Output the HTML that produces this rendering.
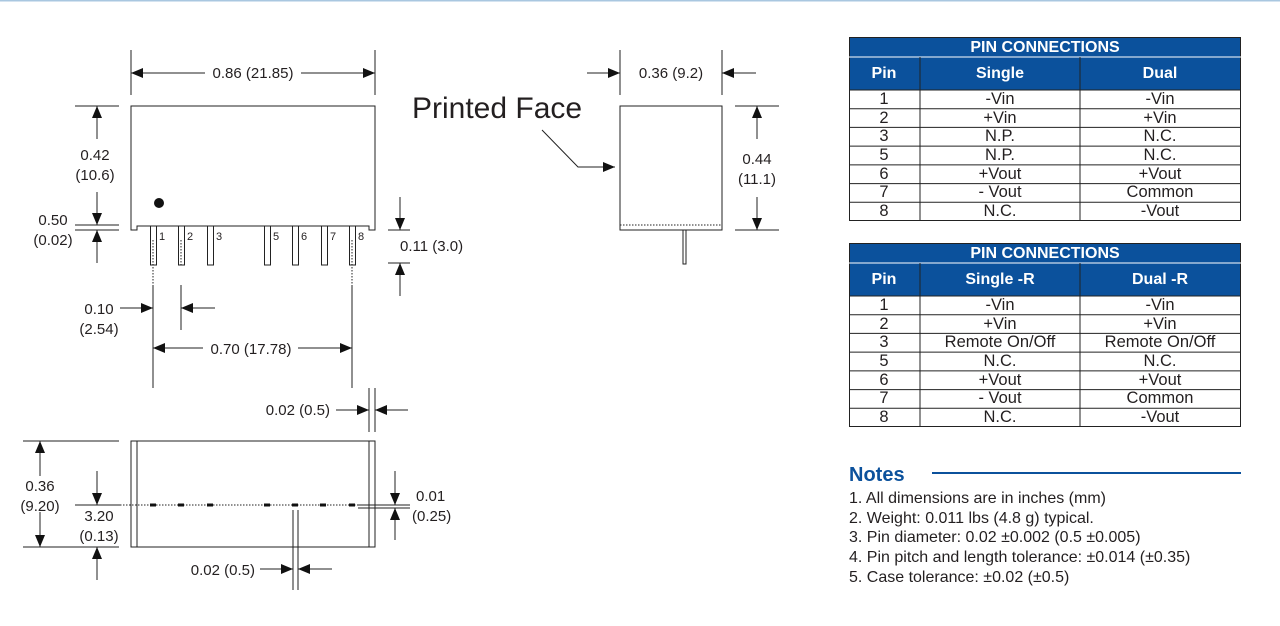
<!DOCTYPE html>
<html><head><meta charset="utf-8"><style>
body{margin:0;background:#fff}
svg{display:block}
text{font-family:"Liberation Sans",Arial,sans-serif;fill:#231f20}
</style></head><body>
<svg width="1280" height="626" viewBox="0 0 1280 626" xmlns="http://www.w3.org/2000/svg">
<defs>
<marker id="a" markerWidth="12" markerHeight="10" refX="12" refY="5" orient="auto" markerUnits="userSpaceOnUse"><path d="M0,0 L12,5 L0,10 Z" fill="#111"/></marker>
</defs>
<rect x="0" y="0" width="1280" height="1.5" fill="#a9c7e0"/>
<g stroke="#222" stroke-width="1" fill="none">
<path d="M131,106 H375 V230 H369 V226 H137 V230 H131 Z"/>
<rect x="150.5" y="226" width="6" height="39"/>
<rect x="178.5" y="226" width="6" height="39"/>
<rect x="207.5" y="226" width="6" height="39"/>
<rect x="264.5" y="226" width="6" height="39"/>
<rect x="292.5" y="226" width="6" height="39"/>
<rect x="321.5" y="226" width="6" height="39"/>
<rect x="349.5" y="226" width="6" height="39"/>
<path d="M153,240 V285 M181,240 V265 M352,240 V285" stroke-dasharray="1.5 1.5"/>
<path d="M131,50 V95 M375,50 V95"/>
<line x1="205" y1="73" x2="131" y2="73" marker-end="url(#a)"/>
<line x1="301" y1="73" x2="375" y2="73" marker-end="url(#a)"/>
<path d="M75,106 H119 M75,225 H119 M75,230 H119"/>
<line x1="97" y1="139" x2="97" y2="106" marker-end="url(#a)"/>
<line x1="97" y1="192" x2="97" y2="225" marker-end="url(#a)"/>
<line x1="97" y1="263" x2="97" y2="230" marker-end="url(#a)"/>
<path d="M388,230 H410 M388,263 H410"/>
<line x1="400" y1="197" x2="400" y2="230" marker-end="url(#a)"/>
<line x1="400" y1="296" x2="400" y2="263" marker-end="url(#a)"/>
<path d="M153,285 V388 M181,285 V330 M352,285 V388"/>
<line x1="120" y1="308" x2="153" y2="308" marker-end="url(#a)"/>
<line x1="215" y1="308" x2="181" y2="308" marker-end="url(#a)"/>
<line x1="203" y1="348" x2="153" y2="348" marker-end="url(#a)"/>
<line x1="298" y1="348" x2="352" y2="348" marker-end="url(#a)"/>

<rect x="131" y="441" width="244" height="106"/>
<path d="M137,441 V547 M369,441 V547"/>
<path d="M369,388 V432 M375,388 V432"/>
<line x1="336" y1="410" x2="369" y2="410" marker-end="url(#a)"/>
<line x1="408" y1="410" x2="375" y2="410" marker-end="url(#a)"/>
<path d="M23,441 H119 M23,547 H119 M75,505 H120"/>
<path d="M120,505 H358" stroke-dasharray="1.5 1.5"/>
<line x1="40" y1="476" x2="40" y2="441" marker-end="url(#a)"/>
<line x1="40" y1="512" x2="40" y2="547" marker-end="url(#a)"/>
<line x1="97" y1="471" x2="97" y2="505" marker-end="url(#a)"/>
<line x1="97" y1="580" x2="97" y2="547" marker-end="url(#a)"/>
<path d="M358,505 H410 M358,508 H410"/>
<line x1="395" y1="471" x2="395" y2="505" marker-end="url(#a)"/>
<line x1="395" y1="540" x2="395" y2="508" marker-end="url(#a)"/>
<path d="M293,510 V590 M298,510 V590"/>
<line x1="260" y1="569" x2="293" y2="569" marker-end="url(#a)"/>
<line x1="332" y1="569" x2="298" y2="569" marker-end="url(#a)"/>

<rect x="620" y="106" width="102" height="124"/>
<path d="M620,225 H722" stroke-dasharray="1.5 1.5"/>
<rect x="683" y="230" width="3" height="34"/>
<path d="M620,50 V95 M722,50 V95"/>
<line x1="587" y1="73" x2="620" y2="73" marker-end="url(#a)"/>
<line x1="756" y1="73" x2="722" y2="73" marker-end="url(#a)"/>
<path d="M735,106 H779 M735,230 H779"/>
<line x1="757" y1="139" x2="757" y2="106" marker-end="url(#a)"/>
<line x1="757" y1="197" x2="757" y2="230" marker-end="url(#a)"/>
<path d="M542,130 L578,167 H600"/>
<line x1="590" y1="167" x2="615" y2="167" marker-end="url(#a)"/>
</g>
<circle cx="159" cy="203" r="5" fill="#111"/>
<g fill="#111">
<rect x="150" y="503.5" width="6" height="3"/><rect x="178" y="503.5" width="6" height="3"/><rect x="207" y="503.5" width="6" height="3"/><rect x="264" y="503.5" width="6" height="3"/><rect x="292" y="503.5" width="6" height="3"/><rect x="320" y="503.5" width="6" height="3"/><rect x="349" y="503.5" width="6" height="3"/>
</g>
<g font-size="15">
<text x="253" y="78" text-anchor="middle">0.86 (21.85)</text>
<text x="95" y="160" text-anchor="middle">0.42</text>
<text x="95" y="180" text-anchor="middle">(10.6)</text>
<text x="53" y="225" text-anchor="middle">0.50</text>
<text x="53" y="245" text-anchor="middle">(0.02)</text>
<text x="400" y="251">0.11 (3.0)</text>
<text x="99" y="314" text-anchor="middle">0.10</text>
<text x="99" y="334" text-anchor="middle">(2.54)</text>
<text x="251" y="354" text-anchor="middle">0.70 (17.78)</text>
<text x="671" y="78" text-anchor="middle">0.36 (9.2)</text>
<text x="757" y="164" text-anchor="middle">0.44</text>
<text x="757" y="184" text-anchor="middle">(11.1)</text>
<text x="330" y="415" text-anchor="end">0.02 (0.5)</text>
<text x="40" y="491" text-anchor="middle">0.36</text>
<text x="40" y="511" text-anchor="middle">(9.20)</text>
<text x="99" y="521" text-anchor="middle">3.20</text>
<text x="99" y="541" text-anchor="middle">(0.13)</text>
<text x="416" y="501">0.01</text>
<text x="412" y="521">(0.25)</text>
<text x="255" y="575" text-anchor="end">0.02 (0.5)</text>
</g>
<g font-size="11">
<text x="159" y="240">1</text><text x="187" y="240">2</text><text x="216" y="240">3</text><text x="273" y="240">5</text><text x="301" y="240">6</text><text x="330" y="240">7</text><text x="358" y="240">8</text>
</g>
<text x="412" y="118" font-size="30">Printed Face</text>

<g>
<rect x="849" y="37" width="392" height="53" fill="#0b519c"/>
<g stroke="#222" stroke-width="1" fill="none">
<rect x="849.5" y="37.5" width="391" height="183"/>
<path d="M849,57 H1241" stroke="#fff"/>
<path d="M920,57 V221 M1080,57 V221"/>
<path d="M849,90 H1241 M849,108.7 H1241 M849,127.4 H1241 M849,146.1 H1241 M849,164.9 H1241 M849,183.6 H1241 M849,202.3 H1241"/>
</g>
<g font-size="16" text-anchor="middle" font-weight="bold">
<text x="1045" y="52" style="fill:#fff">PIN CONNECTIONS</text>
<text x="884" y="78" style="fill:#fff">Pin</text>
<text x="1000" y="78" style="fill:#fff">Single</text>
<text x="1160" y="78" style="fill:#fff">Dual</text>
</g>
<g font-size="16.5" text-anchor="middle">
<text x="884" y="104">1</text><text x="1000" y="104">-Vin</text><text x="1160" y="104">-Vin</text>
<text x="884" y="123">2</text><text x="1000" y="123">+Vin</text><text x="1160" y="123">+Vin</text>
<text x="884" y="141">3</text><text x="1000" y="141">N.P.</text><text x="1160" y="141">N.C.</text>
<text x="884" y="160">5</text><text x="1000" y="160">N.P.</text><text x="1160" y="160">N.C.</text>
<text x="884" y="179">6</text><text x="1000" y="179">+Vout</text><text x="1160" y="179">+Vout</text>
<text x="884" y="197">7</text><text x="1000" y="197">- Vout</text><text x="1160" y="197">Common</text>
<text x="884" y="216">8</text><text x="1000" y="216">N.C.</text><text x="1160" y="216">-Vout</text>
</g>
</g>
<g transform="translate(0,206)">
<rect x="849" y="37" width="392" height="53" fill="#0b519c"/>
<g stroke="#222" stroke-width="1" fill="none">
<rect x="849.5" y="37.5" width="391" height="183"/>
<path d="M849,57 H1241" stroke="#fff"/>
<path d="M920,57 V221 M1080,57 V221"/>
<path d="M849,90 H1241 M849,108.7 H1241 M849,127.4 H1241 M849,146.1 H1241 M849,164.9 H1241 M849,183.6 H1241 M849,202.3 H1241"/>
</g>
<g font-size="16" text-anchor="middle" font-weight="bold">
<text x="1045" y="52" style="fill:#fff">PIN CONNECTIONS</text>
<text x="884" y="78" style="fill:#fff">Pin</text>
<text x="1000" y="78" style="fill:#fff">Single -R</text>
<text x="1160" y="78" style="fill:#fff">Dual -R</text>
</g>
<g font-size="16.5" text-anchor="middle">
<text x="884" y="104">1</text><text x="1000" y="104">-Vin</text><text x="1160" y="104">-Vin</text>
<text x="884" y="123">2</text><text x="1000" y="123">+Vin</text><text x="1160" y="123">+Vin</text>
<text x="884" y="141">3</text><text x="1000" y="141">Remote On/Off</text><text x="1160" y="141">Remote On/Off</text>
<text x="884" y="160">5</text><text x="1000" y="160">N.C.</text><text x="1160" y="160">N.C.</text>
<text x="884" y="179">6</text><text x="1000" y="179">+Vout</text><text x="1160" y="179">+Vout</text>
<text x="884" y="197">7</text><text x="1000" y="197">- Vout</text><text x="1160" y="197">Common</text>
<text x="884" y="216">8</text><text x="1000" y="216">N.C.</text><text x="1160" y="216">-Vout</text>
</g>
</g>
<text x="849" y="481" font-size="20" font-weight="bold" style="fill:#0b519c">Notes</text>
<rect x="932" y="472" width="309" height="2" fill="#0b519c"/>
<g font-size="16">
<text x="849" y="503">1. All dimensions are in inches (mm)</text>
<text x="849" y="523">2. Weight: 0.011 lbs (4.8 g) typical.</text>
<text x="849" y="542">3. Pin diameter: 0.02 ±0.002 (0.5 ±0.005)</text>
<text x="849" y="562">4. Pin pitch and length tolerance: ±0.014 (±0.35)</text>
<text x="849" y="582">5. Case tolerance: ±0.02 (±0.5)</text>
</g>
</svg>
</body></html>
